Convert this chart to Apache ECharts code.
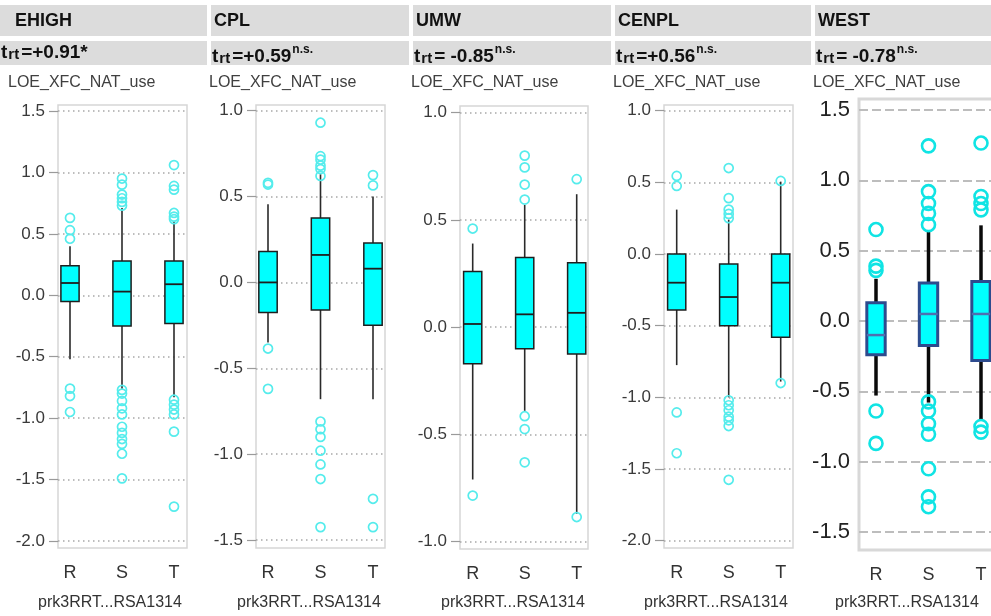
<!DOCTYPE html>
<html>
<head>
<meta charset="utf-8">
<script src="https://cdn.jsdelivr.net/npm/echarts@6/dist/echarts.min.js"></script>
<style>
  html, body { margin: 0; padding: 0; background: #ffffff; }
  #chart { width: 991px; height: 616px; }
</style>
</head>
<body>
<div id="chart"></div>
<script>
// ---- data ----------------------------------------------------------
const categories = ['R', 'S', 'T'];
const regionNames = ['EHIGH', 'CPL', 'UMW', 'CENPL', 'WEST'];
const tValues = ['=+0.91*', '=+0.59', '= -0.85', '=+0.56', '= -0.78'];
const tSuperscripts = ['', 'n.s.', 'n.s.', 'n.s.', 'n.s.'];
const variableName = 'LOE_XFC_NAT_use';
const groupName = 'prk3RRT...RSA1314';

// y-axis tick range of each panel
const yTickMin = [-2.0, -1.5, -1.0, -2.0, -1.5];
const yTickMax = [1.5, 1.0, 1.0, 1.0, 1.5];
const yTickStep = 0.5;

// box statistics per group: [lower whisker, Q1, median, Q3, upper whisker]
const ehighBoxes = [
  [-0.52, -0.05, 0.10, 0.24, 0.40],
  [-0.76, -0.25, 0.03, 0.28, 0.71],
  [-0.83, -0.23, 0.09, 0.28, 0.60]
];
const cplBoxes = [
  [-0.35, -0.175, 0.00, 0.18, 0.455],
  [-0.68, -0.16, 0.16, 0.375, 0.63],
  [-0.68, -0.25, 0.08, 0.23, 0.50]
];
const umwBoxes = [
  [-0.71, -0.17, 0.015, 0.26, 0.39],
  [-0.39, -0.10, 0.06, 0.325, 0.57],
  [-0.87, -0.125, 0.067, 0.30, 0.62]
];
const cenplBoxes = [
  [-0.775, -0.39, -0.20, 0.00, 0.31],
  [-1.00, -0.50, -0.30, -0.07, 0.24],
  [-0.89, -0.58, -0.20, 0.00, 0.505]
];
const westBoxes = [
  [-0.53, -0.24, -0.10, 0.13, 0.30],
  [-0.58, -0.175, 0.05, 0.27, 0.635],
  [-0.71, -0.28, 0.05, 0.28, 0.68]
];

// outlying points per group (R, S, T)
const ehighOutliers = [
  [0.63, 0.53, 0.46, -0.76, -0.82, -0.95],
  [0.95, 0.90, 0.82, 0.79, 0.76, 0.73, -0.77, -0.80, -0.86, -0.92, -0.97, -1.07, -1.12, -1.17, -1.21, -1.29, -1.49],
  [1.06, 0.89, 0.86, 0.67, 0.64, 0.62, -0.85, -0.89, -0.93, -0.97, -1.11, -1.72]
];
const cplOutliers = [
  [0.58, 0.57, -0.385, -0.62],
  [0.93, 0.735, 0.715, 0.68, 0.66, 0.62, -0.81, -0.855, -0.90, -0.98, -1.06, -1.145, -1.425],
  [0.625, 0.565, -1.26, -1.425]
];
const umwOutliers = [
  [0.46, -0.785],
  [0.80, 0.745, 0.665, 0.595, -0.415, -0.475, -0.63],
  [0.69, -0.885]
];
const cenplOutliers = [
  [0.545, 0.475, -1.105, -1.39],
  [0.60, 0.39, 0.31, 0.28, 0.25, -1.02, -1.055, -1.09, -1.135, -1.16, -1.20, -1.575],
  [0.51, -0.90]
];
const westOutliers = [
  [0.65, 0.39, 0.36, -0.64, -0.87],
  [1.245, 0.92, 0.835, 0.765, 0.685, -0.575, -0.64, -0.73, -0.805, -1.05, -1.25, -1.32],
  [1.265, 0.885, 0.835, 0.79, -0.75, -0.79]
];

const panelBoxes = [ehighBoxes, cplBoxes, umwBoxes, cenplBoxes, westBoxes];
const panelOutliers = [ehighOutliers, cplOutliers, umwOutliers, cenplOutliers, westOutliers];

// ---- layout (pixels) ----------------------------------------------
const frameLeft   = [58, 256, 460, 664, 859];
const frameRight  = [187, 385, 588, 793, 996];
const frameTop    = [105, 105, 106, 105, 99];
const frameBottom = [548, 548, 549, 548, 550];
const tickTopPx   = [111, 110.7, 112.7, 110.7, 110];
const tickBotPx   = [541, 540, 541.7, 540.7, 532];
const firstGroupX = [70, 268, 472.7, 676.7, 876];
const groupSpacing = [52, 52.5, 52, 52, 52.5];
const nameCenter  = [110, 309, 513, 716, 907];
const columnLeft  = [0, 211, 413, 615, 815];
const columnRight = [207, 409, 611, 811, 991];

const FONT = '"Liberation Sans", Arial, sans-serif';

const styles = [0, 1, 2, 3].map(() => ({
  yLabelSize: 17, yLabelColor: '#3a3a3a', yTick: true,
  split: { color: '#a8a8a8', width: 1.5, type: [1.5, 3.5] },
  frame: { color: '#d6d6d6', width: 1.5 },
  whisker: { color: '#2a2a2a', width: 1.6 },
  box: { border: '#1e1e1e', width: 1.5, median: '#1e1e1e', medianWidth: 1.8 },
  outlier: { color: '#55ecec', size: 9, width: 1.7 }
}));
styles.push({
  yLabelSize: 22, yLabelColor: '#222', yTick: false,
  split: { color: '#bdbdbd', width: 2, type: [9, 4] },
  frame: { color: '#d8d8d8', width: 3 },
  whisker: { color: '#0a0a0a', width: 3.5 },
  box: { border: '#2d4b8e', width: 3, median: '#4f6fb0', medianWidth: 2.5 },
  outlier: { color: '#10e4e4', size: 13, width: 2.6 }
});

const grids = [], xAxes = [], yAxes = [], series = [], graphics = [];

for (let p = 0; p < 5; p++) {
  const st = styles[p];
  const fw = frameRight[p] - frameLeft[p];
  const fh = frameBottom[p] - frameTop[p];
  const pxPerUnit = (tickBotPx[p] - tickTopPx[p]) / (yTickMax[p] - yTickMin[p]);
  const yMinPad = yTickMin[p] - (frameBottom[p] - tickBotPx[p]) / pxPerUnit;
  const yMaxPad = yTickMax[p] + (tickTopPx[p] - frameTop[p]) / pxPerUnit;
  const band = groupSpacing[p];
  const gFrame = grids.length;

  // frame
  grids.push({ left: frameLeft[p], top: frameTop[p], width: fw, height: fh, show: true,
    outerBoundsMode: 'none',
    borderColor: st.frame.color, borderWidth: st.frame.width, backgroundColor: 'transparent' });
  xAxes.push({ gridIndex: gFrame, type: 'value', show: false });
  yAxes.push({ gridIndex: gFrame, type: 'value', show: false });

  // value scale with ticks and guide lines
  grids.push({ left: frameLeft[p], top: tickTopPx[p], width: fw, height: tickBotPx[p] - tickTopPx[p],
    outerBoundsMode: 'none' });
  xAxes.push({ gridIndex: gFrame + 1, type: 'value', show: false });
  yAxes.push({ gridIndex: gFrame + 1, type: 'value', min: yTickMin[p], max: yTickMax[p], interval: yTickStep,
    axisLine: { show: false },
    axisTick: { show: st.yTick, length: 9, lineStyle: { color: '#9a9a9a', width: 1.2 } },
    axisLabel: { margin: st.yTick ? 13 : 9, fontSize: st.yLabelSize, color: st.yLabelColor,
      fontFamily: FONT, formatter: v => v.toFixed(1) },
    splitLine: { show: true, lineStyle: { color: st.split.color, width: st.split.width, type: st.split.type } }
  });

  // boxes and points, one band per group
  grids.push({ left: firstGroupX[p] - band / 2, top: frameTop[p], width: 3 * band, height: fh,
    outerBoundsMode: 'none' });
  xAxes.push({ gridIndex: gFrame + 2, type: 'category', data: categories,
    axisLine: { show: false },
    axisTick: { show: true, alignWithLabel: true, length: 6, lineStyle: { color: '#b0b0b0', width: 1.2 } },
    axisLabel: { margin: 16, fontSize: 18, color: '#333', fontFamily: FONT }
  });
  yAxes.push({ gridIndex: gFrame + 2, type: 'value', min: yMinPad, max: yMaxPad, show: false });

  const boxData = panelBoxes[p].map((b, i) => [i].concat(b));
  series.push({
    type: 'custom', xAxisIndex: gFrame + 2, yAxisIndex: gFrame + 2,
    encode: { x: 0, y: [1, 2, 3, 4, 5] },
    data: boxData,
    z: 3,
    renderItem: function (params, api) {
      const c = api.value(0);
      const pLo = api.coord([c, api.value(1)]);
      const pQ1 = api.coord([c, api.value(2)]);
      const pMed = api.coord([c, api.value(3)]);
      const pQ3 = api.coord([c, api.value(4)]);
      const pHi = api.coord([c, api.value(5)]);
      const half = api.size([1, 0])[0] * 0.175;
      const x = pQ1[0];
      return {
        type: 'group',
        children: [
          { type: 'line', shape: { x1: x, y1: pLo[1], x2: x, y2: pQ1[1] },
            style: { stroke: st.whisker.color, lineWidth: st.whisker.width } },
          { type: 'line', shape: { x1: x, y1: pQ3[1], x2: x, y2: pHi[1] },
            style: { stroke: st.whisker.color, lineWidth: st.whisker.width } },
          { type: 'rect', shape: { x: x - half, y: pQ3[1], width: half * 2, height: pQ1[1] - pQ3[1] },
            style: { fill: '#00ffff', stroke: st.box.border, lineWidth: st.box.width } },
          { type: 'line', shape: { x1: x - half, y1: pMed[1], x2: x + half, y2: pMed[1] },
            style: { stroke: st.box.median, lineWidth: st.box.medianWidth } }
        ]
      };
    }
  });

  const pts = [];
  panelOutliers[p].forEach((list, i) => list.forEach(v => pts.push([i, v])));
  series.push({
    type: 'scatter', xAxisIndex: gFrame + 2, yAxisIndex: gFrame + 2,
    data: pts, symbol: 'circle', symbolSize: st.outlier.size, z: 4,
    itemStyle: { color: 'rgba(255,255,255,0)', borderColor: st.outlier.color, borderWidth: st.outlier.width, opacity: 1 },
    silent: true
  });

  // header table cells
  graphics.push({ type: 'rect', left: columnLeft[p], top: 5,
    shape: { width: columnRight[p] - columnLeft[p], height: 31 }, style: { fill: '#dcdcdc' } });
  graphics.push({ type: 'rect', left: columnLeft[p], top: 41,
    shape: { width: columnRight[p] - columnLeft[p], height: 24 }, style: { fill: '#dcdcdc' } });
  graphics.push({ type: 'text', left: columnLeft[p] + (p === 0 ? 15 : 3), top: 12,
    style: { text: regionNames[p], font: 'bold 18px ' + FONT, fill: '#111' } });
  graphics.push({ type: 'text', left: columnLeft[p] + 1, top: 43,
    style: {
      text: '{t|t}{sub|rt}{v|' + tValues[p] + '}' + (tSuperscripts[p] ? '{sup|' + tSuperscripts[p] + '}' : ''),
      rich: {
        t: { font: 'bold 19px ' + FONT, fill: '#111', lineHeight: 23, verticalAlign: 'bottom' },
        sub: { font: 'bold 15px ' + FONT, fill: '#111', lineHeight: 23, verticalAlign: 'bottom', padding: [0, 2, 0, 1] },
        v: { font: 'bold 19px ' + FONT, fill: '#111', lineHeight: 23, verticalAlign: 'bottom' },
        sup: { font: 'bold 12px ' + FONT, fill: '#111', lineHeight: 23, verticalAlign: 'top', padding: [1, 0, 0, 1] }
      }
    } });
  graphics.push({ type: 'text', left: columnLeft[p] + (p === 0 ? 8 : -2), top: 75,
    style: { text: variableName, font: '16px ' + FONT, fill: '#404040' } });
  graphics.push({ type: 'text', x: nameCenter[p], y: 603,
    style: { text: groupName, font: '16px ' + FONT, fill: '#333',
      textAlign: 'center', textVerticalAlign: 'middle' } });
}

const chart = echarts.init(document.getElementById('chart'), null, { renderer: 'canvas' });
chart.setOption({
  animation: false,
  backgroundColor: '#ffffff',
  grid: grids,
  xAxis: xAxes,
  yAxis: yAxes,
  series: series,
  graphic: graphics
});
</script>
</body>
</html>
